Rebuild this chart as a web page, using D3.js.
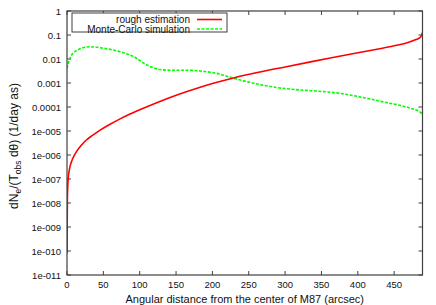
<!DOCTYPE html>
<html><head><meta charset="utf-8">
<script src="https://cdn.jsdelivr.net/npm/d3@7"></script>
<style>body{margin:0;background:#fff}svg{display:block;font-family:"Liberation Sans",Arial,sans-serif}</style>
</head><body><svg id="c" width="436" height="305"></svg>
<script>
const xTicks = [0,50,100,150,200,250,300,350,400,450];
const yTicks = [1,0.1,0.01,0.001,0.0001,1e-5,1e-6,1e-7,1e-8,1e-9,1e-10,1e-11];
const yTickLabels = ["1","0.1","0.01","0.001","0.0001","1e-005","1e-006","1e-007","1e-008","1e-009","1e-010","1e-011"];
const seriesNames = ["rough estimation","Monte-Carlo simulation"];
// rough estimation: x (arcsec), log10 value
const roughX = [0.05,0.5,1.0,1.8,2.8,4,6.4,10,13,20,27,36,45,58,73,86,100,126,156,180,200,229,260,300,335,362,400,430,450,470,480,485,487,489];
const roughLog = [-10.1,-7.9,-7.35,-6.93,-6.69,-6.5,-6.26,-6.016,-5.862,-5.584,-5.365,-5.165,-4.975,-4.741,-4.496,-4.306,-4.118,-3.79,-3.45,-3.21,-3.025,-2.79,-2.575,-2.33,-2.12,-1.96,-1.74,-1.57,-1.45,-1.30,-1.19,-1.12,-1.06,-0.9];
// Monte-Carlo simulation
const mcX = [0,4,13,32,50,73,91,110,128,145,169,183,206,229,257,289,321,335,367,413,440,468,486,489];
const mcLog = [-2.39,-1.97,-1.65,-1.49,-1.55,-1.70,-1.89,-2.25,-2.44,-2.47,-2.47,-2.5,-2.60,-2.80,-3.01,-3.19,-3.29,-3.32,-3.40,-3.64,-3.82,-4.01,-4.22,-4.28];

const svg = d3.select("#c");
const L=67, R=422.5, T=11, B=275;
const x = d3.scaleLinear().domain([0,489]).range([L,R]);
const y = d3.scaleLog().domain([1e-11,1]).range([B,T]);
const frame = "#404040";

// ticks
const g = svg.append("g");
xTicks.forEach(t=>{
  g.append("line").attr("x1",x(t)).attr("x2",x(t)).attr("y1",B).attr("y2",B-4).attr("stroke",frame);
  g.append("line").attr("x1",x(t)).attr("x2",x(t)).attr("y1",T).attr("y2",T+4).attr("stroke",frame);
  g.append("text").attr("x",x(t)).attr("y",B+13).attr("text-anchor","middle").attr("font-size",9.5).attr("fill","#111").text(t);
});
yTicks.forEach((t,i)=>{
  g.append("line").attr("x1",L).attr("x2",L+4).attr("y1",y(t)).attr("y2",y(t)).attr("stroke",frame);
  g.append("line").attr("x1",R).attr("x2",R-4).attr("y1",y(t)).attr("y2",y(t)).attr("stroke",frame);
  g.append("text").attr("x",L-6).attr("y",y(t)+3.5).attr("text-anchor","end").attr("font-size",9.5).attr("fill","#111").text(yTickLabels[i]);
});

// lines
const line = d3.line().x(d=>x(d[0])).y(d=>y(Math.pow(10,d[1]))).curve(d3.curveMonotoneX);
svg.append("clipPath").attr("id","cp").append("rect").attr("x",L).attr("y",T).attr("width",R-L).attr("height",B-T);
svg.append("path").datum(mcX.map((v,i)=>[v,mcLog[i]])).attr("d",line).attr("fill","none")
  .attr("stroke","#00ff00").attr("stroke-width",1.6).attr("stroke-dasharray","3,1.5").attr("clip-path","url(#cp)");
svg.append("path").datum(roughX.map((v,i)=>[v,roughLog[i]])).attr("d",line).attr("fill","none")
  .attr("stroke","#ff0000").attr("stroke-width",1.6).attr("clip-path","url(#cp)");

// frame
svg.append("rect").attr("x",L).attr("y",T).attr("width",R-L).attr("height",B-T).attr("fill","none").attr("stroke",frame).attr("stroke-width",1.2);

// legend
svg.append("rect").attr("x",72).attr("y",13).attr("width",155).attr("height",19).attr("fill","#fff").attr("stroke",frame);
const lc = ["#ff0000","#00ff00"], ld=[null,"3,1.5"];
seriesNames.forEach((n,i)=>{
  const yy = 19.5+i*9.5;
  svg.append("text").attr("x",190).attr("y",yy+3.5).attr("text-anchor","end").attr("font-size",10).attr("fill","#111").text(n);
  svg.append("line").attr("x1",197).attr("x2",222).attr("y1",yy).attr("y2",yy).attr("stroke",lc[i]).attr("stroke-width",1.6).attr("stroke-dasharray",ld[i]);
});

// axis labels
svg.append("text").attr("x",(L+R)/2).attr("y",303).attr("text-anchor","middle").attr("font-size",11).attr("fill","#111")
  .text("Angular distance from the center of M87 (arcsec)");
const yl = svg.append("text").attr("transform","translate(18,146) rotate(-90)").attr("text-anchor","middle").attr("font-size",12).attr("fill","#111");
yl.append("tspan").text("dN");
yl.append("tspan").attr("font-size",8.5).attr("dy",3).text("e");
yl.append("tspan").attr("dy",-3).text("/(T");
yl.append("tspan").attr("font-size",8.5).attr("dy",3).text("obs");
yl.append("tspan").attr("dy",-3).text(" dθ) (1/day as)");
</script></body></html>
